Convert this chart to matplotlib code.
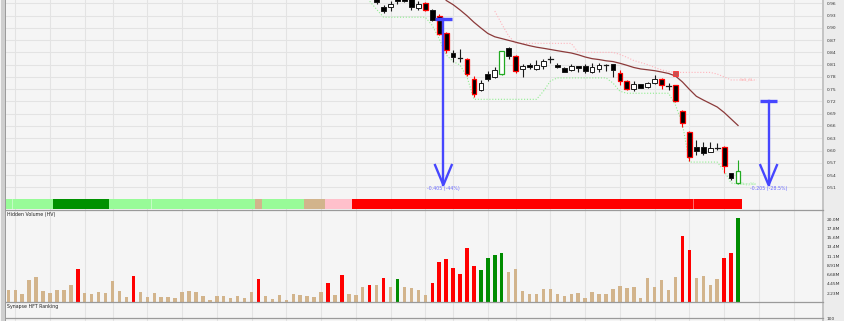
import matplotlib
matplotlib.use("Agg")
import matplotlib.pyplot as plt
from matplotlib.patches import Rectangle
from matplotlib.lines import Line2D

W, H = 845, 321
BG = "#f5f5f5"

# ---------------- data ----------------
n_bars = 106
candle_start = 53
opens = [0.980, 0.952, 0.9505, 0.978, 0.980, 0.975, 0.949, 0.960, 0.943, 0.930,
         0.887, 0.8383, 0.827, 0.8246, 0.776, 0.749, 0.7863, 0.7798, 0.786, 0.8505,
         0.831, 0.7985, 0.8100, 0.8002, 0.8066, 0.8226, 0.810, 0.8027, 0.796, 0.8066,
         0.8066, 0.792, 0.8002, 0.810, 0.8124, 0.7905, 0.770, 0.7515, 0.762, 0.7554,
         0.7652, 0.776, 0.757, 0.7593, 0.6968, 0.6456, 0.6076, 0.6076, 0.5954, 0.6066,
         0.6076, 0.5441, 0.5212]
highs = [0.985, 0.957, 0.965, 0.985, 0.985, 0.980, 0.965, 0.964, 0.945, 0.9344,
         0.8895, 0.8466, 0.849, 0.827, 0.7815, 0.7717, 0.7944, 0.8041, 0.8435, 0.852,
         0.8344, 0.8124, 0.8149, 0.8205, 0.8246, 0.831, 0.815, 0.8035, 0.8124, 0.807,
         0.8124, 0.815, 0.815, 0.8105, 0.8124, 0.796, 0.772, 0.770, 0.763, 0.767,
         0.784, 0.777, 0.7651, 0.761, 0.7002, 0.648, 0.6254, 0.6205, 0.6205, 0.6188,
         0.6107, 0.5441, 0.5766]
lows = [0.959, 0.936, 0.941, 0.958, 0.963, 0.9424, 0.9424, 0.941, 0.9163, 0.8815,
        0.8393, 0.8163, 0.8163, 0.7815, 0.731, 0.7456, 0.770, 0.7773, 0.785, 0.8246,
        0.7905, 0.7798, 0.800, 0.796, 0.8002, 0.815, 0.8017, 0.7915, 0.795, 0.792,
        0.790, 0.7905, 0.792, 0.7937, 0.7798, 0.7612, 0.7473, 0.7456, 0.753, 0.754,
        0.7637, 0.7515, 0.749, 0.7188, 0.6578, 0.5749, 0.5888, 0.5888, 0.5954, 0.601,
        0.5456, 0.5278, 0.518]
closes = [0.962, 0.941, 0.9588, 0.9655, 0.966, 0.9505, 0.9588, 0.944, 0.9198, 0.8856,
          0.8449, 0.8286, 0.827, 0.7863, 0.7376, 0.7651, 0.7741, 0.7978, 0.8424, 0.831,
          0.7937, 0.8066, 0.8042, 0.810, 0.818, 0.8226, 0.8042, 0.792, 0.8058, 0.8025,
          0.7944, 0.804, 0.810, 0.810, 0.7978, 0.770, 0.7515, 0.7637, 0.754, 0.766,
          0.776, 0.7612, 0.757, 0.7212, 0.6661, 0.5846, 0.5993, 0.5944, 0.6051, 0.6066,
          0.562, 0.532, 0.5498]
candle_marks = ["n", "n", "n", "n", "n", "n", "n", "r", "n", "r",
                "r", "n", "n", "r", "r", "n", "n", "n", "g", "n",
                "r", "n", "n", "n", "n", "n", "n", "n", "n", "n",
                "n", "n", "n", "n", "n", "r", "r", "n", "n", "n",
                "n", "r", "n", "r", "r", "r", "n", "n", "n", "n",
                "r", "n", "g"]
signal_idx = [96]
signal_val = [0.789]

ma_start = 63
ma_vals = [0.967, 0.9567, 0.9437, 0.9295, 0.9136, 0.8996, 0.8862, 0.8781, 0.8737, 0.8693,
           0.8649, 0.8605, 0.8563, 0.8527, 0.8500, 0.8471, 0.8441, 0.8412, 0.8385, 0.8341,
           0.8287, 0.8246, 0.8224, 0.8194, 0.8175, 0.8133, 0.8084, 0.8030, 0.7994, 0.7974,
           0.7952, 0.7920, 0.7884, 0.7822, 0.7676, 0.7495, 0.7326, 0.7235, 0.7150, 0.7064,
           0.6930, 0.6771, 0.6612]

buy_sl_start = 52
buy_sl = [0.965, 0.945, 0.926, 0.926, 0.926, 0.926, 0.926, 0.926, 0.926, 0.906,
          0.873, 0.834, 0.8176, 0.809, 0.780, 0.7252, 0.7252, 0.7252, 0.7252, 0.7252,
          0.7252, 0.7252, 0.7252, 0.7252, 0.7252, 0.745, 0.770, 0.7776, 0.7776, 0.7776,
          0.7776, 0.7776, 0.7776, 0.7776, 0.7776, 0.765, 0.745, 0.740, 0.740, 0.740,
          0.740, 0.740, 0.740, 0.740, 0.711, 0.665, 0.5717, 0.5717, 0.5717, 0.5717,
          0.5717, 0.550, 0.5205, 0.518]

sell_sl_start = 70
sell_sl = [0.941, 0.9094, 0.880, 0.862, 0.862, 0.862, 0.862, 0.862, 0.862, 0.862,
           0.862, 0.862, 0.840, 0.840, 0.840, 0.840, 0.840, 0.840, 0.835, 0.828,
           0.820, 0.815, 0.810, 0.803, 0.797, 0.793, 0.791, 0.791, 0.791, 0.791,
           0.791, 0.791, 0.787, 0.780, 0.7725, 0.7725]

volume_m = [2.92, 3.07, 2.04, 5.3, 6.1, 2.7, 2.27, 3.0, 2.9, 4.1,
            8.0, 2.35, 2.04, 2.43, 2.27, 5.07, 2.7, 1.24, 6.27, 2.43,
            1.32, 2.2, 1.32, 1.32, 1.08, 2.43, 2.68, 2.51, 1.56, 0.6,
            1.48, 1.48, 1.0, 1.56, 1.0, 2.51, 5.63, 1.48, 0.84, 1.8,
            0.6, 1.96, 1.8, 1.56, 1.24, 2.51, 4.67, 1.8, 6.5, 2.04,
            1.8, 3.7, 4.1, 4.1, 5.87, 3.7, 5.63, 3.63, 3.47, 3.07,
            1.8, 4.67, 9.7, 10.4, 8.2, 6.83, 13.0, 8.74, 7.7, 10.7,
            11.45, 11.86, 7.3, 8.0, 2.68, 1.96, 2.04, 3.3, 3.15, 2.04,
            1.56, 2.04, 2.2, 1.08, 2.51, 2.12, 1.96, 3.15, 3.95, 3.47,
            3.7, 1.0, 5.87, 3.63, 5.39, 3.0, 6.03, 16.0, 12.6, 5.95,
            6.35, 4.27, 5.55, 10.7, 11.9, 20.3]
volume_cls = (["t"] * 10 + ["r"] + ["t"] * 7 + ["r"] + ["t"] * 17 + ["r"] + ["t"] * 9
              + ["r"] + ["t"] + ["r"] + ["t"] * 3 + ["r"] + ["t"] + ["r"] + ["t"] + ["g"]
              + ["t"] * 4 + ["r"] * 7 + ["g"] * 4 + ["t"] * 25 + ["r"] * 2 + ["t"] * 4
              + ["r"] * 2 + ["g"])

strip_cls = (["lg"] * 7 + ["dg"] * 8 + ["lg"] * 21 + ["tan"] + ["lg"] * 6 + ["tan"] * 3
             + ["pk"] * 4 + ["r"] * 56)

price_ticks = [0.51, 0.54, 0.57, 0.60, 0.63, 0.66, 0.69, 0.72, 0.75, 0.78,
               0.81, 0.84, 0.87, 0.90, 0.93, 0.96]
vol_max_m = 22.28
vol_tick_labels = ["2.23M", "4.45M", "6.68M", "8.91M", "11.1M", "13.4M", "15.6M", "17.8M", "20.0M"]
grid_idx = [1, 6, 11, 15, 20, 25, 30, 35, 40, 45, 50, 55, 60, 64, 69, 73, 78, 83, 88, 93,
            98, 103, 108, 113]
strip_sep_idx = [0.5, 20.5, 98.5]

arrow_x = [62.6, 109.4]
arrow_top = [0.9205, 0.7203]
arrow_bottom = [0.5155, 0.5153]
arrow_text = ["-0.405 (-44%)", "-0.205 (-28.5%)"]

# ---------------- layout ----------------
fig = plt.figure(figsize=(W / 100, H / 100), dpi=100, facecolor=BG)

X0, X1 = 6, 822
SLOT = 6.95
FIRST = 8.3
XLIM = ((X0 - FIRST) / SLOT, (X1 - FIRST) / SLOT)


def px_axes(y0, y1):
    ax = fig.add_axes([X0 / W, 1 - y1 / H, (X1 - X0) / W, (y1 - y0) / H])
    ax.set_facecolor(BG)
    for s in ax.spines.values():
        s.set_visible(False)
    ax.set_xlim(*XLIM)
    ax.set_xticks([])
    ax.tick_params(axis="y", length=0, pad=3.5, labelsize=3.2, labelcolor="#333333",
                   left=False, right=False, labelleft=False, labelright=True)
    return ax


GRID = "#e3e3e3"
ax = px_axes(0, 198)
axs = px_axes(198, 210)
axv = px_axes(210, 302.3)
axh = px_axes(302.3, 321)

for a in (ax, axs, axv, axh):
    for g in grid_idx:
        a.axvline(g, color=GRID, lw=0.8, zorder=0)

# ---------------- main price panel ----------------
p_per_px = (0.96 - 0.51) / (187.3 - 3.3)
ax.set_ylim(0.51 - (198 - 187.3) * p_per_px, 0.51 + 187.3 * p_per_px)
ax.set_yticks(price_ticks)
ax.set_yticklabels([f"{t:.2f}" for t in price_ticks])
for t in price_ticks:
    ax.axhline(t, color=GRID, lw=0.8, zorder=0)

bw = 0.68
for k in range(len(opens)):
    i = candle_start + k
    o, hi, lo, c, m = opens[k], highs[k], lows[k], closes[k], candle_marks[k]
    edge = {"r": "#ff0000", "g": "#22aa22", "n": "#1a1a1a"}[m]
    wick = edge
    ax.plot([i, i], [lo, hi], color=wick, lw=0.8, zorder=2, solid_capstyle="butt")
    if abs(c - o) < 1e-9:
        ax.plot([i - bw / 2, i + bw / 2], [o, o], color=edge, lw=0.9, zorder=3)
    else:
        fill = "#000000" if c < o else "#ffffff"
        ax.add_patch(Rectangle((i - bw / 2, min(o, c)), bw, abs(c - o), facecolor=fill,
                               edgecolor=edge, lw=0.9 if m != "n" else 0.7, zorder=3))

for i, v in zip(signal_idx, signal_val):
    ax.add_patch(Rectangle((i - 0.3, v - 0.006), 0.6, 0.012, facecolor="#c85050",
                           edgecolor="#ff3030", lw=0.6, zorder=4))

ax.plot(range(ma_start, ma_start + len(ma_vals)), ma_vals, color="#8b3a3a", lw=0.9, zorder=3)

ext = 2.7
bx = list(range(buy_sl_start, buy_sl_start + len(buy_sl))) + [buy_sl_start + len(buy_sl) - 1 + ext]
ax.plot(bx, buy_sl + [buy_sl[-1]], color="#8fee8f", lw=0.8, ls=(0, (1, 1.6)), zorder=1)
sx = list(range(sell_sl_start, sell_sl_start + len(sell_sl))) + [sell_sl_start + len(sell_sl) - 1 + ext]
ax.plot(sx, sell_sl + [sell_sl[-1]], color="#ffb4bc", lw=0.8, ls=(0, (1, 1.6)), zorder=1)
ax.text(n_bars - 1 + 0.3, buy_sl[-1] - 0.001, "Buy_SL", fontsize=3.0, color="#b4f0b4",
        va="center", ha="left", zorder=1)
ax.text(n_bars - 1 + 0.3, sell_sl[-1] + 0.002, "Sell_SL", fontsize=3.0, color="#ffb4b4",
        va="center", ha="left", zorder=1)

BLUE = "#4646ff"
for x, top, bot, txt in zip(arrow_x, arrow_top, arrow_bottom, arrow_text):
    ax.plot([x - 1.27, x + 1.27], [top, top], color=BLUE, lw=2.4, solid_capstyle="butt", zorder=5)
    ax.plot([x, x], [top, bot], color=BLUE, lw=1.7, zorder=5)
    ax.plot([x - 1.2, x, x + 1.2], [bot + 20 * p_per_px, bot, bot + 20 * p_per_px],
            color=BLUE, lw=1.7, zorder=5, solid_joinstyle="miter")
    ax.text(x, bot - 9.5 * p_per_px / 2.5, txt, fontsize=3.4, color="#6a6aff",
            ha="center", va="center", zorder=5)

# ---------------- strip ----------------
axs.set_ylim(0, 1)
axs.set_yticks([])
scol = {"lg": "#98fb98", "dg": "#009100", "tan": "#d2b48c", "pk": "#ffc0cb", "r": "#ff0000"}
axs.bar(range(n_bars), [0.8] * n_bars, bottom=0.11, width=1.0,
        color=[scol[c] for c in strip_cls], linewidth=0, zorder=2)
for s in strip_sep_idx:
    axs.plot([s, s], [0.11, 0.91], color="white", lw=0.5, alpha=0.6, zorder=3)

# ---------------- volume ----------------
axv.set_ylim(0, vol_max_m)
axv.set_yticks([vol_max_m * k / 10 for k in range(1, 10)])
axv.set_yticklabels(vol_tick_labels)
vcol = {"t": "#d2b48c", "r": "#ff0000", "g": "#008c00"}
axv.bar(range(n_bars), volume_m, width=0.5, color=[vcol[c] for c in volume_cls],
        linewidth=0, zorder=2)
axv.text(0.0015, 0.955, "Hidden Volume (HV)", transform=axv.transAxes, fontsize=3.4,
         color="#222222", va="center", ha="left")

# ---------------- HFT ranking ----------------
axh.set_ylim(94.94, 130)
axh.set_yticks([100])
axh.set_yticklabels(["100"])
axh.text(0.0015, 0.79, "Synapse HFT Ranking", transform=axh.transAxes, fontsize=3.4,
         color="#222222", va="center", ha="left")

# ---------------- frame decorations (figure pixels) ----------------
def fx(x):
    return x / W


def fy(y):
    return 1 - y / H


fig.add_artist(Rectangle((fx(822), 0), fx(845 - 822), 1, transform=fig.transFigure,
                         facecolor="#ececec", edgecolor="none", zorder=-1))
fig.add_artist(Rectangle((fx(822), 0), fx(2.2), 1, transform=fig.transFigure,
                         facecolor="#c4c4c4", edgecolor="none", zorder=5))
fig.add_artist(Rectangle((fx(1), 0), fx(4), 1, transform=fig.transFigure,
                         facecolor="#cfcfcf", edgecolor="none", zorder=5))
fig.add_artist(Rectangle((fx(4.6), 0), fx(1.2), 1, transform=fig.transFigure,
                         facecolor="#9c9c9c", edgecolor="none", zorder=5))
for yy in (210, 302.3, 318.3):
    fig.add_artist(Line2D([fx(6), fx(823)], [fy(yy), fy(yy)], transform=fig.transFigure,
                          color="#9a9a9a", lw=0.9, zorder=5))

fig.savefig("out.png", dpi=100, facecolor=BG)
